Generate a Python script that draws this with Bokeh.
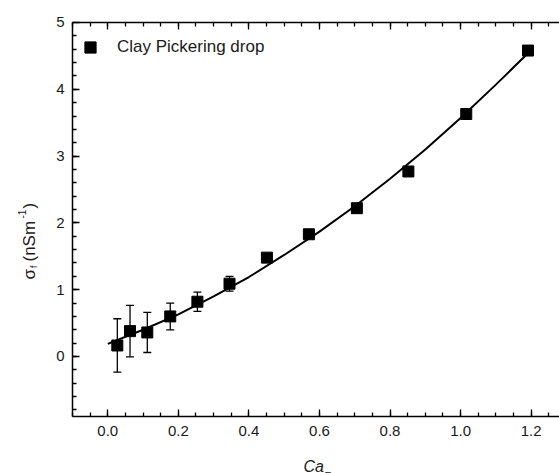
import math
from bokeh.plotting import figure
from bokeh.models import (ColumnDataSource, Whisker, TeeHead, LinearAxis, FixedTicker,
                          Label, Legend, LegendItem, Range1d, NumeralTickFormatter,
                          CustomJSTickFormatter)
from bokeh.embed import file_html
from bokeh.resources import INLINE

# ---- data ----
ca = [0.027, 0.063, 0.112, 0.177, 0.254, 0.345, 0.451, 0.570, 0.706, 0.852, 1.016, 1.191]
sigma = [0.165, 0.38, 0.36, 0.60, 0.82, 1.09, 1.48, 1.83, 2.22, 2.77, 3.63, 4.58]
err = [0.40, 0.385, 0.30, 0.20, 0.145, 0.11, 0.05, 0.03, 0.03, 0.03, 0.03, 0.03]

fit_x = [0.0, 0.1, 0.2, 0.3, 0.4, 0.5, 0.6, 0.7, 0.8, 0.9, 1.0, 1.1, 1.185]
fit_y = [0.19, 0.40, 0.63, 0.90, 1.19, 1.52, 1.87, 2.25, 2.66, 3.10, 3.57, 4.07, 4.51]

x_major = [0.0, 0.2, 0.4, 0.6, 0.8, 1.0, 1.2]
y_major = [0, 1, 2, 3, 4, 5]
series_name = "Clay Pickering drop"

FONT = "Liberation Sans"
TXT = "#1a1a1a"

# plot box (data limits of the drawn axes box)
X0, Y0, Y1 = -0.1, -0.9, 5.0

src = ColumnDataSource(dict(
    x=ca, y=sigma,
    upper=[s + e for s, e in zip(sigma, err)],
    lower=[s - e for s, e in zip(sigma, err)],
))

p = figure(width=559, height=473,
           x_range=Range1d(-0.3041, 1.2803), y_range=Range1d(-1.7515, 5.3293),
           output_backend="svg", toolbar_location=None,
           x_axis_location=None, y_axis_location=None, min_border=0)
p.outline_line_color = None
p.xgrid.visible = False
p.ygrid.visible = False
p.background_fill_color = "white"
p.border_fill_color = "white"

x_minor = [round(-0.1 + 0.05 * i, 3) for i in range(0, 28)]
y_minor = [round(-0.8 + 0.2 * i, 3) for i in range(0, 29)]
xt = FixedTicker(ticks=x_major, minor_ticks=x_minor)
yt = FixedTicker(ticks=y_major, minor_ticks=y_minor)

def style(ax):
    ax.axis_line_width = 1.5
    ax.axis_line_color = "black"
    ax.major_tick_in = 7
    ax.major_tick_out = 0
    ax.minor_tick_in = 4
    ax.minor_tick_out = 0
    ax.major_tick_line_width = 1.3
    ax.minor_tick_line_width = 1.3
    ax.major_tick_line_color = "black"
    ax.minor_tick_line_color = "black"
    ax.major_label_text_font = FONT
    ax.major_label_text_font_size = "15px"
    ax.major_label_text_color = TXT

bottom = LinearAxis(ticker=xt, formatter=NumeralTickFormatter(format="0.0"),
                    fixed_location=Y0, bounds=(X0, 1.2803))
style(bottom)
bottom.major_label_standoff = 9
p.add_layout(bottom, "below")

top = LinearAxis(ticker=xt, formatter=CustomJSTickFormatter(code="return ''"),
                 fixed_location=Y1, bounds=(X0, 1.2803))
style(top)
top.major_label_standoff = 0
p.add_layout(top, "above")

left = LinearAxis(ticker=yt, fixed_location=X0, bounds=(Y0, Y1))
style(left)
left.major_label_standoff = 8
p.add_layout(left, "left")

# error bars
wh = Whisker(base="x", upper="upper", lower="lower", source=src,
             line_color="black", line_width=1.3,
             upper_head=TeeHead(size=8, line_color="black", line_width=1.3),
             lower_head=TeeHead(size=8, line_color="black", line_width=1.3))
p.add_layout(wh)

# fit curve
p.line(fit_x, fit_y, line_color="black", line_width=2)

# data points
pts = p.scatter("x", "y", source=src, marker="square", size=11,
                fill_color="black", line_color="black")

legend = Legend(items=[LegendItem(label=series_name, renderers=[pts])],
                location=(76, 412), padding=6, margin=0, spacing=0,
                glyph_width=28, glyph_height=28, label_standoff=13,
                label_text_font=FONT, label_text_font_size="17px",
                label_text_color=TXT,
                border_line_color=None, background_fill_alpha=0)
p.add_layout(legend)

# axis titles built from pieces (sub/superscripts), screen units from bottom-left
lab = dict(x_units="screen", y_units="screen", text_font=FONT, text_color=TXT,
           text_baseline="alphabetic", text_align="left")
rot = math.pi / 2
p.add_layout(Label(x=28.5, y=194, text="σ", text_font_size="17px", angle=rot, **lab))
p.add_layout(Label(x=33, y=205.5, text="f", text_font_size="9px", angle=rot, **lab))
p.add_layout(Label(x=28.5, y=212, text="(nSm", text_font_size="17px", angle=rot, **lab))
p.add_layout(Label(x=21, y=255, text="-1", text_font_size="10px", angle=rot, **lab))
p.add_layout(Label(x=28.5, y=265, text=")", text_font_size="17px", angle=rot, **lab))

p.add_layout(Label(x=303, y=7, text="Ca", text_font_size="16px",
                   text_font_style="italic", **lab))
p.add_layout(Label(x=324, y=-2, text="F", text_font_size="11px", **lab))

open("out.html", "w").write(file_html(p, INLINE))
